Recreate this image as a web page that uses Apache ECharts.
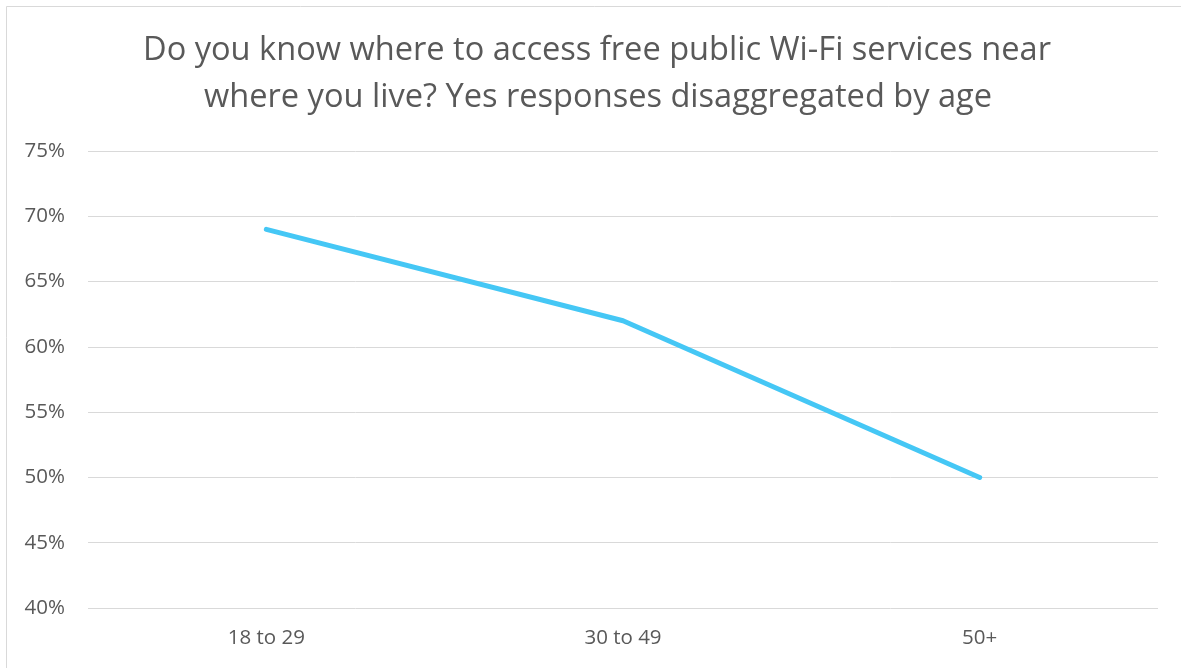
<!DOCTYPE html>
<html><head><meta charset="utf-8">
<script src="https://cdn.jsdelivr.net/npm/echarts@6/dist/echarts.min.js"></script>
<style>html,body{margin:0;padding:0;background:#fff}#c{width:1181px;height:668px}</style>
</head><body><div id="c"></div>
<script>
const titleLines = ["Do you know where to access free public Wi-Fi services near", "where you live? Yes responses disaggregated by age"];
const categories = ["18 to 29", "30 to 49", "50+"];
const yesValues = [69, 62, 50];
const yMin = 40, yMax = 75, yStep = 5;

const titleStyle = { fontFamily: 'Open Sans', fontSize: 32.6, fontWeight: 'normal', color: '#595959', lineHeight: 47 };
const chart = echarts.init(document.getElementById('c'));
chart.setOption({
  animation: false,
  backgroundColor: '#fff',
  graphic: [{ type: 'rect', shape: { x: 6.5, y: 6.5, width: 1190, height: 680 }, style: { fill: 'none', stroke: '#d9d9d9', lineWidth: 1 }, silent: true }],
  title: [
    { text: titleLines[0], left: 138, top: 22, textStyle: titleStyle },
    { text: titleLines[1], left: 199, top: 69, textStyle: titleStyle }
  ],
  grid: { left: 88, right: 23, top: 151, bottom: 60, containLabel: false },
  xAxis: {
    type: 'category', data: categories, boundaryGap: true,
    axisLine: { show: false }, axisTick: { show: false },
    axisLabel: { color: '#595959', fontFamily: 'Open Sans', fontSize: 20.5, margin: 20 }
  },
  yAxis: {
    type: 'value', min: yMin, max: yMax, interval: yStep,
    axisLine: { show: false }, axisTick: { show: false },
    axisLabel: { color: '#595959', fontFamily: 'Open Sans', fontSize: 20.5, margin: 23, formatter: '{value}%' },
    splitLine: { lineStyle: { color: '#d9d9d9', width: 1 } }
  },
  series: [{
    type: 'line', data: yesValues, symbol: 'none',
    lineStyle: { color: '#45c7f5', width: 5, cap: 'round', join: 'round' }
  }]
});
</script></body></html>
